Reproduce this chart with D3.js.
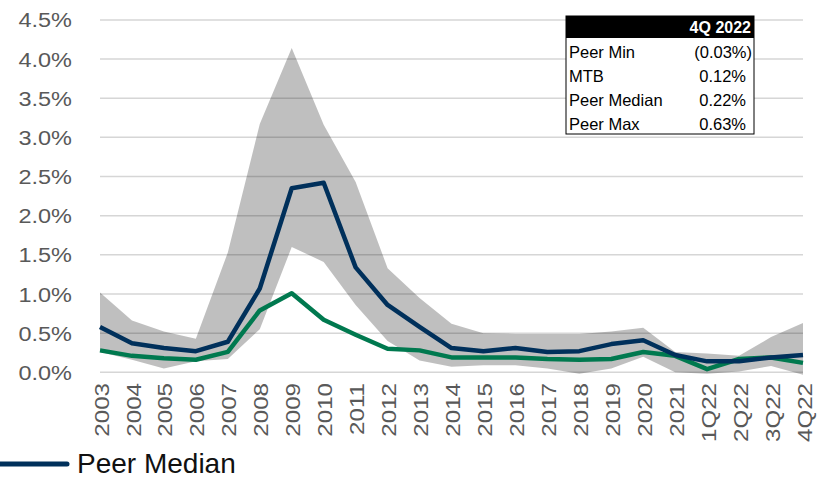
<!DOCTYPE html>
<html>
<head>
<meta charset="utf-8">
<script src="https://cdn.jsdelivr.net/npm/d3@7"></script>
<style>
  body { margin: 0; background: #fff; }
  svg { display: block; font-family: "Liberation Sans", Arial, sans-serif; }
</style>
</head>
<body>
<div id="chart"></div>
<script>
  var categories = ["2003", "2004", "2005", "2006", "2007", "2008", "2009", "2010", "2011", "2012",
    "2013", "2014", "2015", "2016", "2017", "2018", "2019", "2020", "2021", "1Q22", "2Q22", "3Q22", "4Q22"];

  // values in percent
  var peerMedian = [0.58, 0.37, 0.31, 0.27, 0.39, 1.07, 2.35, 2.42, 1.34, 0.86, 0.58, 0.31,
    0.27, 0.31, 0.26, 0.27, 0.36, 0.41, 0.22, 0.14, 0.14, 0.19, 0.22];
  var mtb = [0.28, 0.21, 0.18, 0.16, 0.26, 0.79, 1.01, 0.67, 0.48, 0.30, 0.28, 0.19,
    0.19, 0.19, 0.17, 0.16, 0.17, 0.26, 0.21, 0.04, 0.17, 0.19, 0.12];
  var peerMax = [1.02, 0.66, 0.52, 0.43, 1.53, 3.17, 4.14, 3.16, 2.43, 1.33, 0.95, 0.62,
    0.50, 0.49, 0.49, 0.49, 0.52, 0.57, 0.26, 0.24, 0.21, 0.45, 0.63];
  var peerMin = [0.26, 0.16, 0.05, 0.14, 0.17, 0.55, 1.60, 1.41, 0.86, 0.40, 0.15, 0.07,
    0.09, 0.09, 0.05, -0.02, 0.05, 0.20, 0.00, -0.02, 0.01, 0.08, -0.03];

  var yTicks = [0, 0.5, 1, 1.5, 2, 2.5, 3, 3.5, 4, 4.5];

  var tableTitle = "4Q 2022";
  var tableLabels = ["Peer Min", "MTB", "Peer Median", "Peer Max"];
  var tableValues = ["(0.03%)", "0.12%", "0.22%", "0.63%"];

  var legendLabel = "Peer Median";

  var W = 824, H = 479;
  var NAVY = "#00305b", GREEN = "#00794f";

  var svg = d3.select("#chart").append("svg").attr("width", W).attr("height", H);

  var x = d3.scalePoint().domain(categories).range([100, 803]);
  var y = d3.scaleLinear().domain([0, 4.5]).range([372.3, 19.9]);

  // gridlines
  svg.append("g")
    .selectAll("line")
    .data(yTicks)
    .join("line")
    .attr("x1", 100)
    .attr("x2", 803)
    .attr("y1", function(d) { return y(d); })
    .attr("y2", function(d) { return y(d); })
    .attr("stroke", "#d6d6d6")
    .attr("stroke-width", 1.5);

  // y axis labels
  svg.append("g")
    .selectAll("text")
    .data(yTicks)
    .join("text")
    .attr("transform", function(d) { return "translate(72," + y(d) + ") scale(1.12,1)"; })
    .attr("dy", "0.36em")
    .attr("text-anchor", "end")
    .attr("font-size", 21)
    .attr("fill", "#595959")
    .text(function(d) { return d.toFixed(1) + "%"; });

  // x axis labels
  svg.append("g")
    .selectAll("text")
    .data(categories)
    .join("text")
    .attr("transform", function(d) { return "translate(" + (x(d) + 1) + ",383) rotate(-90) scale(1.15,1)"; })
    .attr("dy", "0.36em")
    .attr("text-anchor", "end")
    .attr("font-size", 21)
    .attr("fill", "#595959")
    .text(function(d) { return d; });

  // peer range band
  var band = d3.area()
    .x(function(d, i) { return x(categories[i]); })
    .y0(function(d, i) { return y(peerMin[i]); })
    .y1(function(d) { return y(d); });

  svg.append("path")
    .datum(peerMax)
    .attr("d", band)
    .attr("fill", "#000")
    .attr("fill-opacity", 0.25);

  var line = d3.line()
    .x(function(d, i) { return x(categories[i]); })
    .y(function(d) { return y(d); });

  svg.append("path")
    .datum(mtb)
    .attr("d", line)
    .attr("fill", "none")
    .attr("stroke", GREEN)
    .attr("stroke-width", 4.5)
    .attr("stroke-linejoin", "round");

  svg.append("path")
    .datum(peerMedian)
    .attr("d", line)
    .attr("fill", "none")
    .attr("stroke", NAVY)
    .attr("stroke-width", 4.5)
    .attr("stroke-linejoin", "round");

  // table
  var tx = 566, tw = 188, ty = 16, headH = 22, rowH = 24;
  var table = svg.append("g");
  table.append("rect")
    .attr("x", tx).attr("y", ty)
    .attr("width", tw).attr("height", headH + rowH * tableLabels.length)
    .attr("fill", "#fff")
    .attr("stroke", "#000")
    .attr("stroke-width", 1);
  table.append("rect")
    .attr("x", tx).attr("y", ty)
    .attr("width", tw).attr("height", headH)
    .attr("fill", "#000");
  table.append("text")
    .attr("x", tx + tw - 3)
    .attr("y", ty + 17)
    .attr("text-anchor", "end")
    .attr("font-size", 16)
    .attr("font-weight", "bold")
    .attr("fill", "#fff")
    .text(tableTitle);

  var rows = table.selectAll("g.row")
    .data(tableLabels)
    .join("g")
    .attr("class", "row")
    .attr("transform", function(d, i) { return "translate(0," + (ty + headH + rowH * i) + ")"; });
  rows.append("text")
    .attr("x", tx + 3)
    .attr("y", 19.5)
    .attr("font-size", 16.5)
    .attr("fill", "#000")
    .text(function(d) { return d; });
  rows.append("text")
    .attr("x", function(d, i) { return tableValues[i].charAt(0) === "(" ? tx + tw - 2 : tx + tw - 8; })
    .attr("y", 19.5)
    .attr("text-anchor", "end")
    .attr("font-size", 16.5)
    .attr("fill", "#000")
    .text(function(d, i) { return tableValues[i]; });

  // legend (cut off on the left)
  svg.append("line")
    .attr("x1", -10).attr("x2", 67)
    .attr("y1", 464).attr("y2", 464)
    .attr("stroke", NAVY)
    .attr("stroke-width", 5)
    .attr("stroke-linecap", "round");
  svg.append("text")
    .attr("x", 77)
    .attr("y", 473)
    .attr("font-size", 28)
    .attr("fill", "#111")
    .text(legendLabel);
</script>
</body>
</html>
